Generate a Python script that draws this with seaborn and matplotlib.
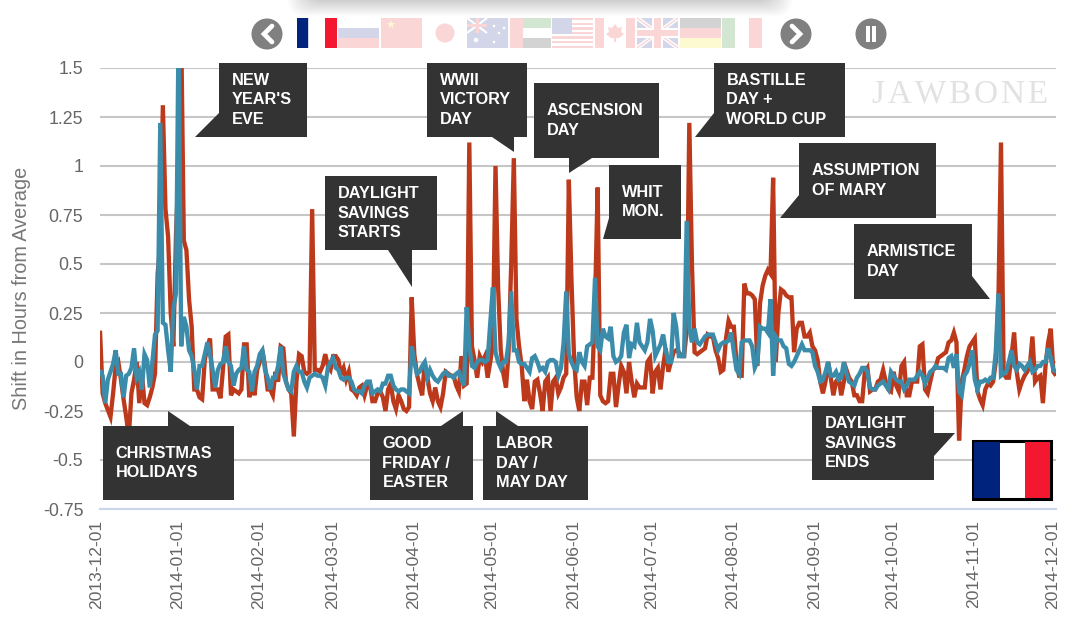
import numpy as np
import pandas as pd
import matplotlib
matplotlib.use("Agg")
import matplotlib.pyplot as plt
import matplotlib.dates as mdates
from matplotlib.patches import Rectangle, Polygon, Circle, FancyBboxPatch
from matplotlib.transforms import ScaledTranslation
import seaborn as sns

START = "2013-12-01"
france_sleep_shift = [
 .16,-.16,-.21,-.245,-.28,-.16,-.02,0,-.09,-.19,
 -.28,-.38,-.16,-.09,0,-.21,-.06,-.21,-.22,-.18,
 -.13,-.06,.45,.6,1.31,.78,.64,.25,.08,.64,
 1.0,1.7,.62,.57,.32,.18,-.14,-.14,-.18,-.19,
 .01,.08,.12,-.14,-.14,-.14,-.185,-.03,.13,.14,
 -.17,-.14,-.15,-.16,-.14,.09,.09,-.18,-.09,-.17,
 -.04,0,.06,-.02,-.14,-.14,-.17,-.05,-.1,.08,
 .07,-.1,-.14,-.16,-.38,-.1,.04,.03,-.05,-.06,
 -.05,.78,-.04,-.04,-.05,-.02,.04,-.02,-.04,.03,
 .03,.01,-.06,-.03,-.09,-.05,-.14,-.15,-.17,-.13,
 -.12,-.17,-.12,-.11,-.2,-.2,-.16,-.15,-.18,-.25,
 -.14,-.11,-.2,-.24,-.17,-.2,-.24,-.25,-.23,.33,
 .04,-.06,-.12,-.17,0,-.08,-.16,-.2,-.13,-.2,
 -.23,-.16,-.05,-.06,-.07,-.07,-.12,-.15,.03,-.12,
 -.11,1.12,.08,.01,-.08,.03,0,.03,-.08,0,
 .09,1.0,.38,.06,-.06,-.13,.05,.5,1.04,.22,
 .08,-.02,-.2,-.09,-.2,-.24,-.1,-.09,-.16,-.25,
 -.1,-.08,-.25,-.1,-.08,-.16,-.13,-.08,-.06,.93,
 .42,.02,-.18,-.25,-.1,-.1,-.22,-.08,-.08,.3,
 .89,-.17,-.2,-.21,-.2,-.06,-.06,-.23,-.12,-.02,
 -.05,-.16,0,-.1,-.18,-.11,-.13,-.13,-.13,0,
 .02,-.16,-.05,-.03,-.14,-.02,.07,-.05,0,.05,
 .06,.05,.03,.03,.16,1.22,.5,.05,.04,.05,
 .06,.07,.14,.13,.13,.06,.02,-.05,-.04,.12,
 .21,.18,.18,0,-.07,-.07,.4,.35,.35,.34,
 .32,-.02,.3,.39,.44,.47,.45,.94,0,.25,
 .37,.36,.34,.33,.33,.05,.17,.2,.2,.13,
 .13,.15,.08,.06,.01,-.1,-.16,-.1,0,-.08,
 -.17,-.1,-.08,-.17,-.1,-.04,-.08,-.1,-.17,-.17,
 -.2,-.2,-.05,-.03,-.15,-.14,-.14,-.1,-.09,-.04,
 -.1,-.14,-.15,-.05,-.12,-.15,-.02,0,-.17,-.17,
 -.1,-.1,-.1,.08,.09,-.14,-.16,-.1,-.04,-.03,
 .02,.03,.04,.05,.1,.11,.15,.1,-.4,-.1,
 -.04,.03,.08,.1,.12,-.15,-.19,-.22,-.14,-.11,
 -.12,-.1,0,.3,1.12,-.06,-.08,-.08,.03,.15,
 -.05,-.14,-.1,-.07,-.05,-.02,.13,-.1,-.08,-.07,
 -.21,-.02,.1,.17,-.05,-.07,
]
global_sleep_shift = [
 -.04,-.07,-.21,-.09,-.05,-.01,.06,-.06,-.06,-.18,
 -.07,-.06,-.03,.07,-.08,-.05,-.14,.04,.01,-.13,
 0,.14,.16,1.22,.2,.19,.06,-.05,.27,.35,
 1.7,.08,.23,.18,.06,.03,-.04,-.14,-.02,-.02,
 .04,.1,.04,-.04,-.13,-.04,-.01,0,.08,0,
 -.02,-.12,-.06,-.04,-.03,.08,-.04,-.05,-.15,-.05,
 -.02,.04,.06,-.04,-.08,-.14,-.08,-.08,-.02,.08,
 -.06,-.1,-.14,-.15,-.05,-.02,-.05,-.05,-.1,-.13,
 -.08,-.07,-.06,-.07,-.07,-.08,-.12,-.03,0,.02,
 -.03,-.04,-.08,-.09,-.08,-.08,-.1,-.14,-.15,-.15,
 -.16,-.12,-.1,-.1,-.16,-.15,-.14,-.15,-.11,-.11,
 -.07,-.07,-.12,-.14,-.15,-.14,-.14,-.15,-.16,.08,
 0,-.06,-.05,-.02,0,-.08,-.04,-.07,-.09,-.1,
 -.08,-.06,-.05,-.07,-.07,-.08,-.06,-.05,-.09,-.12,
 .28,.08,-.02,-.03,0,.01,.01,0,.01,.2,
 .38,.05,0,-.03,0,0,.1,.36,.06,.06,
 0,-.01,-.01,-.03,-.05,.02,.03,0,-.04,-.03,
 -.05,0,.01,.01,0,-.07,-.03,.1,.36,.04,
 0,-.03,-.04,.05,0,-.02,.08,.09,.1,.43,
 .08,.06,.17,.13,.12,.18,.03,0,.01,.03,
 .15,.19,.02,.09,.08,.2,.1,.08,.06,.1,
 .22,.16,.03,.06,.09,.14,.06,0,0,.25,
 .18,.03,.03,.03,.72,.18,.1,.17,.1,.09,
 .11,.13,.14,.14,.14,.1,.06,.09,.1,.1,
 .11,.15,.05,-.04,-.06,.1,.11,.11,.11,.08,
 -.03,0,.18,.17,.17,.15,.32,-.07,.13,.11,
 .11,.08,.07,-.01,-.02,0,.03,.06,.09,.06,
 .06,.06,.05,-.02,-.05,-.1,-.09,-.05,0,-.07,
 -.07,-.05,-.09,-.08,0,-.06,-.1,-.11,-.12,-.08,
 -.06,-.03,-.03,-.05,-.13,-.14,-.14,-.12,-.11,-.1,
 -.12,-.14,-.05,-.07,-.09,-.1,-.1,-.14,-.12,-.09,
 -.09,-.09,-.07,-.05,-.07,-.11,-.08,-.05,-.04,-.02,
 -.03,-.03,-.03,-.04,.02,.03,-.03,.04,-.15,-.17,
 -.07,-.05,-.01,.06,-.09,-.14,-.1,-.1,-.09,-.1,
 -.08,-.08,.05,.35,-.07,-.06,-.05,0,.06,-.02,
 -.04,-.01,-.02,-.04,-.02,0,-.05,-.04,-.02,-.02,
 0,0,.07,.02,-.04,-.05,
]
y_ticks = [-.75, -.5, -.25, 0, .25, .5, .75, 1, 1.25, 1.5]
y_tick_labels = ["-0.75", "-0.5", "-0.25", "0", "0.25", "0.5", "0.75", "1", "1.25", "1.5"]
month_ticks = pd.date_range("2013-12-01", "2014-12-01", freq="MS")
RED, BLUE = "#BC3A1B", "#3B8CAB"
DARK = "#333333"
SANS = "Liberation Sans"

sns.set_theme(style="white")
plt.rcParams["font.family"] = [SANS, "DejaVu Sans"]

n = len(france_sleep_shift)
dates = pd.date_range(START, periods=n, freq="D")
df = pd.DataFrame({"date": np.r_[dates, dates],
                   "shift": france_sleep_shift + global_sleep_shift,
                   "series": ["France"] * n + ["Global"] * len(global_sleep_shift)})

W, H = 1074, 638
fig = plt.figure(figsize=(W / 100, H / 100), dpi=100, facecolor="white")
ax = fig.add_axes([100 / W, 1 - 509 / H, 956 / W, 441 / H])
ax.set_axisbelow(True)
ax.yaxis.grid(True, color="#c6c6c6", lw=1.5)
sns.lineplot(data=df, x="date", y="shift", hue="series", hue_order=["France", "Global"],
             palette=[RED, BLUE], lw=3.1, legend=False, ax=ax, estimator=None,
             solid_joinstyle="miter", solid_capstyle="butt")
ax.set_xlim(dates[0], dates[-1])
ax.set_ylim(-.75, 1.5)
ax.set_yticks(y_ticks, y_tick_labels)
ax.set_xticks(month_ticks)
ax.xaxis.set_major_formatter(mdates.DateFormatter("%Y-%m-%d"))
ax.tick_params(axis="x", length=0, pad=8, labelsize=12.6, labelcolor="#666666", labelrotation=90)
ax.tick_params(axis="y", length=0, pad=12, labelsize=12.8, labelcolor="#666666")
shift_right = ScaledTranslation(4 / 100, 0, fig.dpi_scale_trans)
for lab in ax.get_xticklabels():
    lab.set_ha("right")
    lab.set_transform(lab.get_transform() + shift_right)
ax.set_xlabel("")
ax.set_ylabel("Shift in Hours from Average", fontsize=14.3, color="#777777")
ax.yaxis.set_label_coords((31 - 100) / 956, 0.5)
for s in ["top", "right", "left"]:
    ax.spines[s].set_visible(False)
ax.spines["bottom"].set_color("#ccd6eb")
ax.spines["bottom"].set_linewidth(1.5)

ov = fig.add_axes([0, 0, 1, 1], zorder=5)
ov.set_xlim(0, W); ov.set_ylim(H, 0); ov.axis("off"); ov.patch.set_alpha(0)

ov.text(1048, 94, "\u200a".join("JAWBONE"), family="Liberation Serif", fontsize=24, color="#e2e2e2",
        ha="right", va="center", zorder=1)

callouts = [
    ("NEW\nYEAR'S\nEVE", (219, 63, 307, 137), [(219, 113), (195, 137), (219, 137)]),
    ("DAYLIGHT\nSAVINGS\nSTARTS", (325, 176, 437, 250), [(388, 250), (412, 287), (412, 250)]),
    ("CHRISTMAS\nHOLIDAYS", (103, 426, 234, 500), [(168, 426), (168, 411), (190, 426)]),
    ("WWII\nVICTORY\nDAY", (427, 63, 527, 137), [(492, 137), (514, 152), (514, 137)]),
    ("ASCENSION\nDAY", (534, 83, 659, 158), [(569, 158), (569, 173), (592, 158)]),
    ("WHIT\nMON.", (609, 165, 681, 239), [(609, 218), (603, 239), (609, 239)]),
    ("BASTILLE\nDAY +\nWORLD CUP", (714, 63, 845, 137), [(714, 113), (695, 137), (714, 137)]),
    ("ASSUMPTION\nOF MARY", (799, 143, 936, 218), [(799, 195), (780, 218), (799, 218)]),
    ("ARMISTICE\nDAY", (854, 224, 972, 299), [(972, 276), (990, 299), (972, 299)]),
    ("DAYLIGHT\nSAVINGS\nENDS", (812, 406, 934, 480), [(934, 433), (955, 433), (934, 456)]),
    ("GOOD\nFRIDAY /\nEASTER", (370, 426, 473, 500), [(441, 426), (463, 411), (463, 426)]),
    ("LABOR\nDAY /\nMAY DAY", (483, 426, 588, 500), [(496, 426), (496, 411), (518, 426)]),
]
for label, (x0, y0, x1, y1), tail in callouts:
    ov.add_patch(Rectangle((x0, y0), x1 - x0, y1 - y0, fc=DARK, ec="none", zorder=2))
    ov.add_patch(Polygon(tail, closed=True, fc=DARK, ec="none", zorder=2))
    ov.text(x0 + 12.5, (y0 + y1) / 2, label, color="white", fontsize=11.7, fontweight="bold",
            ha="left", va="center", linespacing=1.38, zorder=3)

# large flag, bottom right
ov.add_patch(Rectangle((973, 441), 78, 58, fc="white", ec="black", lw=2.2, zorder=3))
ov.add_patch(Rectangle((974, 442), 25.5, 56, fc="#00247D", ec="none", zorder=3))
ov.add_patch(Rectangle((1024.5, 442), 25.5, 56, fc="#F31830", ec="none", zorder=3))

# carousel shadow
for i in range(22):
    ov.add_patch(FancyBboxPatch((288 + i * 1.4, -30), 504 - i * 2.8, 46 - i * 1.0,
                                boxstyle="round,pad=0,rounding_size=16",
                                fc="#000000", ec="none", alpha=.011, zorder=1))

def band(x, y, w, h, c):
    ov.add_patch(Rectangle((x, y), w, h, fc=c, ec="none", zorder=2))

def stroke(xs, ys, c, lw=1.6):
    ov.plot(xs, ys, color=c, lw=lw, zorder=2, solid_capstyle="butt")

FY, FH, FW = 18, 30, 41
PR, PB, PG, PY, PD = "#fbd6d6", "#d3d6e8", "#d2e6d2", "#fdfad2", "#d3d3d3"
band(297, FY, 11, FH, "#00247D"); band(308, FY, 1, FH, PB); band(325, FY, 12, FH, "#F31830")
band(338, FY + 10, FW, 10, PB); band(338, FY + 20, FW, 10, PR)
band(381, FY, FW, FH, PR)
ov.text(390, FY + 8, "★", color=PY, fontsize=8, ha="center", va="center", family="DejaVu Sans", zorder=3)
ov.add_patch(Circle((445, 33), 9.5, fc=PR, ec="none", zorder=2))
band(467, FY, FW, FH, PB)
stroke([467, 487], [FY, FY + 15], "white", 1.5); stroke([467, 487], [FY + 15, FY], "white", 1.5)
band(467, FY + 6, 20, 3, PR); band(476, FY, 3, 15, PR)
for sx, sy in [(476, 40), (494, 26), (499, 33), (494, 42), (504, 28)]:
    ov.add_patch(Circle((sx, sy), 1.3 if sx != 476 else 2.2, fc="white", ec="none", zorder=3))
band(510, FY, 13, FH, PR); band(523, FY, 28, 10, PG); band(523, FY + 20, 28, 10, PD)
for i in range(7):
    band(552, FY + i * 4.6, FW, 2.3, PR)
band(552, FY, 20, 16, PB)
band(595, FY, 9, FH, PR); band(626, FY, 9, FH, PR)
ov.add_patch(Polygon([(615, 24), (618, 28), (622, 27), (621, 32), (624, 34), (619, 38), (616, 38), (616, 42),
                      (614, 42), (614, 38), (611, 38), (606, 34), (609, 32), (608, 27), (612, 28)],
                     closed=True, fc=PR, ec="none", zorder=2))
band(637, FY, FW, FH, PB)
stroke([637, 678], [FY, FY + FH], "white", 3); stroke([637, 678], [FY + FH, FY], "white", 3)
stroke([637, 678], [FY, FY + FH], PR, 1); stroke([637, 678], [FY + FH, FY], PR, 1)
band(637, FY + 10, FW, 10, "white"); band(652, FY, 11, FH, "white")
band(637, FY + 12, FW, 6, PR); band(654, FY, 7, FH, PR)
band(680, FY, FW, 10, PD); band(680, FY + 10, FW, 10, PR); band(680, FY + 20, FW, 10, PY)
band(722, FY, 13, FH, PG); band(749, FY, 13, FH, PR)

def button(cx):
    ov.add_patch(Circle((cx, 34), 15.5, fc="#808080", ec="none", zorder=2))
button(267); button(796); button(871)
ov.plot([272, 264, 272], [26, 34, 42], color="white", lw=3.4, zorder=3, solid_joinstyle="miter")
ov.plot([792, 800, 792], [26, 34, 42], color="white", lw=3.4, zorder=3, solid_joinstyle="miter")
band(865.5, 26, 4, 16, "white"); band(872, 26, 4, 16, "white")

fig.savefig("out.png", dpi=100, facecolor="white")
